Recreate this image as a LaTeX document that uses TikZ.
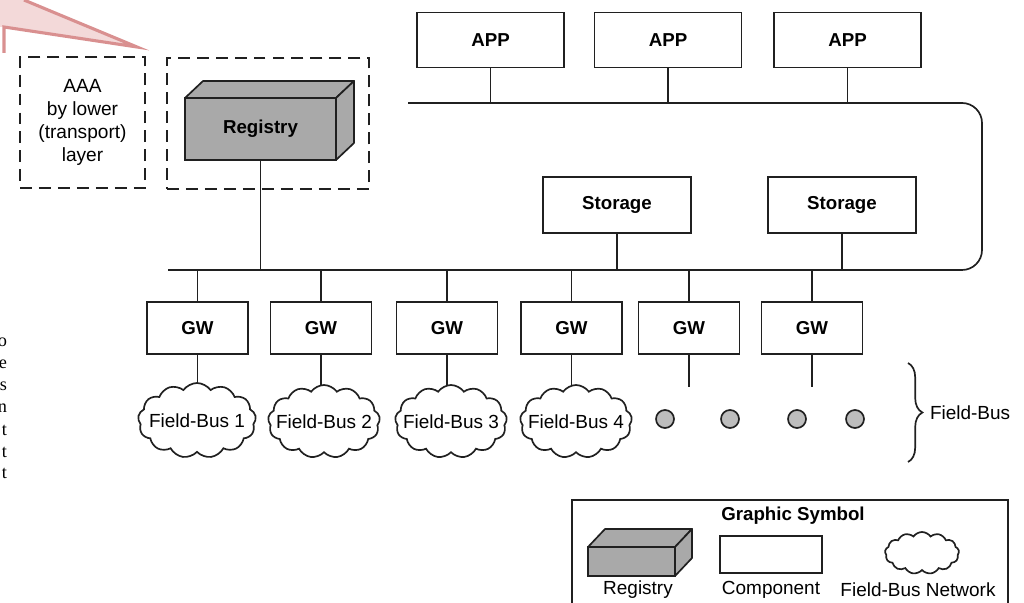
\documentclass[tikz,border=0pt]{standalone}
\usepackage{fontspec}
\setmainfont{Liberation Sans}
\newfontfamily\strayfont{Liberation Serif}
\usetikzlibrary{shapes.symbols,decorations.pathreplacing}
\definecolor{ink}{HTML}{202020}
\definecolor{regfill}{HTML}{A9A9A9}
\definecolor{dotfill}{HTML}{BDBDBD}
\definecolor{pinkline}{HTML}{D99090}
\definecolor{pinkfill}{HTML}{F3D9D9}
\tikzset{
  every node/.style={outer sep=0pt},
  lbl/.style={font=\fontsize{13.5}{16}\selectfont, inner sep=0pt},
  blbl/.style={font=\bfseries\fontsize{13.3}{16}\selectfont, inner sep=0pt},
  comp/.style 2 args={draw=ink, fill=white, line width=1.2pt, minimum width=#1*0.25mm, minimum height=#2*0.25mm, inner sep=0pt, font=\bfseries\fontsize{13.3}{16}\selectfont},
  regfront/.style 2 args={draw=ink, fill=regfill, line width=1.2pt, minimum width=#1*0.25mm, minimum height=#2*0.25mm, inner sep=0pt, font=\bfseries\fontsize{13.3}{16}\selectfont},
  dbox/.style 2 args={draw=ink, line width=1.4pt, dash pattern=on 8.5pt off 5pt, minimum width=#1*0.25mm, minimum height=#2*0.25mm, inner sep=0pt},
  fbus/.style 2 args={draw=ink, line width=1.2pt, cloud, cloud puffs=13, cloud puff arc=110, cloud ignores aspect, minimum width=#1*0.25mm, minimum height=#2*0.25mm, inner sep=0pt},
  dot/.style={draw=ink, fill=dotfill, line width=1.2pt, circle, minimum size=18*0.25mm, inner sep=0pt},
  wire/.style={draw=ink, line width=1.2pt},
  stray/.style={font=\strayfont\fontsize{13}{15}\selectfont, inner sep=0pt, anchor=east}
}
\begin{document}
\begin{tikzpicture}[x=0.25mm,y=-0.25mm]
\useasboundingbox (0,0) rectangle (1024,603);

% callout fragment
\fill[pinkfill] (0,0) -- (24,0) -- (137,47) -- (4,27) -- (0,27) -- cycle;
\draw[pinkline, line width=2.2pt, line join=miter] (24,0) -- (137,47) -- (4,27) -- (4,53);

% stray margin letters
\node[stray] (s1) at (7,342) {o};
\node[stray] (s2) at (7,364) {e};
\node[stray] (s3) at (7,386) {s};
\node[stray] (s4) at (7,408) {n};
\node[stray] (s5) at (7,430) {t};
\node[stray] (s6) at (7,452) {t};
\node[stray] (s7) at (7,473) {t};

% dashed boxes
\node[dbox={125}{131}, align=center, font=\fontsize{13.6}{16.4}\selectfont] (aaa) at (82.5,122.5) {AAA\\by lower\\(transport)\\layer};
\node[dbox={202}{131}] (regarea) at (268,123.5) {};

% registry 3D
\node[regfront={151}{62}] (reg) at (260.5,129) {Registry};
\draw[draw=ink, fill=regfill, line width=1.2pt, line join=round] (reg.north west) -- ++(18,-17) -- ++(151,0) -- (reg.north east) -- cycle;
\draw[draw=ink, fill=regfill, line width=1.2pt, line join=round] (reg.north east) -- ++(18,-17) -- ++(0,62) -- (reg.south east) -- cycle;

% apps
\node[comp={147}{55}] (app1) at (490.5,40) {APP};
\node[comp={147}{55}] (app2) at (668,40) {APP};
\node[comp={147}{55}] (app3) at (847.5,40) {APP};

% storage
\node[comp={148}{56}] (sto1) at (617,205) {Storage};
\node[comp={148}{56}] (sto2) at (842,205) {Storage};

% bus
\coordinate (busL) at (168,270);
\coordinate (busTL) at (408,103);
\draw[wire, rounded corners=5mm] (busL) -- (982,270) -- (982,103) -- (busTL);

\draw[wire] (reg.south) -- (reg.south |- busL);
\foreach \a in {app1,app2,app3} \draw[wire] (\a.south) -- (\a.south |- busTL);
\foreach \s in {sto1,sto2} \draw[wire] (\s.south) -- (\s.south |- busL);

% gateways
\node[comp={101}{52}] (gw1) at (197.5,328) {GW};
\node[comp={101}{52}] (gw2) at (321,328) {GW};
\node[comp={101}{52}] (gw3) at (447,328) {GW};
\node[comp={101}{52}] (gw4) at (571.5,328) {GW};
\node[comp={101}{52}] (gw5) at (689,328) {GW};
\node[comp={101}{52}] (gw6) at (812,328) {GW};
\foreach \g in {gw1,gw2,gw3,gw4,gw5,gw6} \draw[wire] (\g.north) -- (\g.north |- busL);

% field buses
\node[fbus={118}{75}] (fb1) at (197,420.5) {};
\node[fbus={112}{73}] (fb2) at (324,421.5) {};
\node[fbus={112}{73}] (fb3) at (451,421.5) {};
\node[fbus={112}{73}] (fb4) at (576,421.5) {};
\node[lbl] (fbt1) at (fb1.center) {Field-Bus 1};
\node[lbl] (fbt2) at (fb2.center) {Field-Bus 2};
\node[lbl] (fbt3) at (fb3.center) {Field-Bus 3};
\node[lbl] (fbt4) at (fb4.center) {Field-Bus 4};
\draw[wire] (gw1.south) -- (gw1.south |- fb1.north);
\draw[wire] (gw2.south) -- (gw2.south |- fb2.north);
\draw[wire] (gw3.south) -- (gw3.south |- fb3.north);
\draw[wire] (gw4.south) -- (gw4.south |- fb4.north);

\coordinate (e5) at (689,387);
\coordinate (e6) at (812,387);
\draw[wire] (gw5.south) -- (e5);
\draw[wire] (gw6.south) -- (e6);

\node[dot] (d1) at (665,419) {};
\node[dot] (d2) at (730,419) {};
\node[dot] (d3) at (797,419) {};
\node[dot] (d4) at (855,419) {};

% brace
\coordinate (bt) at (908,363);
\coordinate (bb) at (908,462);
\draw[wire, decorate, decoration={brace, amplitude=3.6mm}] (bt) -- (bb);
\node[lbl, anchor=west] (fbl) at (930,413) {Field-Bus};

% legend
\draw[wire] (572,603) -- (572,500) -- (1008,500) -- (1008,603);
\node[blbl] (legt) at (793,516) {Graphic Symbol};
\node[regfront={87}{29}] (lreg) at (631.5,561.5) {};
\draw[draw=ink, fill=regfill, line width=1.2pt, line join=round] (lreg.north west) -- ++(17,-18) -- ++(87,0) -- (lreg.north east) -- cycle;
\draw[draw=ink, fill=regfill, line width=1.2pt, line join=round] (lreg.north east) -- ++(17,-18) -- ++(0,29) -- (lreg.south east) -- cycle;
\node[comp={102}{37}] (lcomp) at (771,554.5) {};
\node[fbus={74}{42}] (lcloud) at (922,553) {};
\node[lbl] (lregt) at (638,590) {Registry};
\node[lbl] (lcompt) at (771,590) {Component};
\node[lbl] (lcloudt) at (918,590) {Field-Bus Network};
\end{tikzpicture}
\end{document}
